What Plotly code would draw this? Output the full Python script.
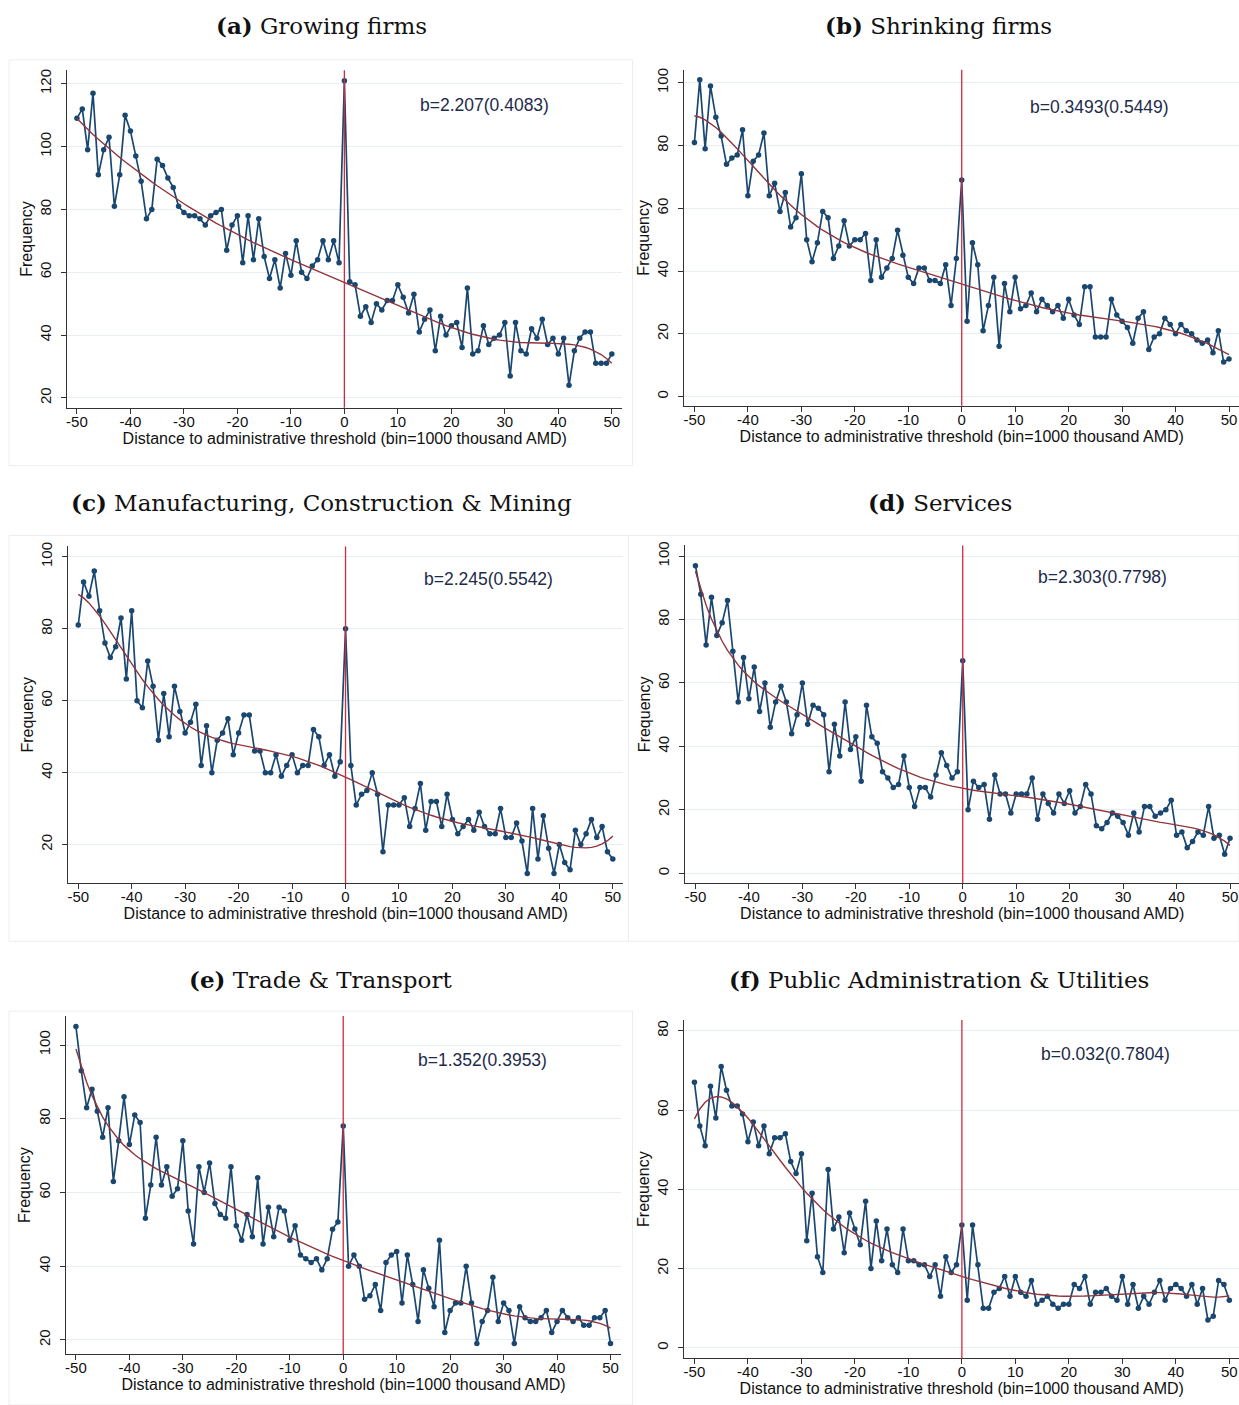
import numpy as np
import plotly.graph_objects as go

W, H = 1239, 1405

bins = list(range(-50, 51))

# ---------------- data (frequency per bin, x = -50 .. 50) ----------------
growing = [109,112,99,117,91,99,103,81,91,110,
           105,97,89,77,80,96,94,90,87,81,
           79,78,78,77,75,78,79,80,67,75,
           78,63,78,64,77,65,58,64,55,66,
           59,70,60,58,62,64,70,64,70,63,
           121,
           57,56,46,49,44,50,48,51,51,56,
           52,47,53,41,45,48,35,46,40,43,
           44,36,55,34,35,43,37,39,40,44,
           27,44,35,34,42,39,45,37,39,34,
           39,24,35,39,41,41,31,31,31,34]

shrinking = [81,101,79,99,89,83,74,76,77,85,
             64,75,77,84,64,68,59,65,54,57,
             71,50,43,49,59,57,44,48,56,48,
             50,50,52,37,50,38,41,44,53,45,
             38,36,41,41,37,37,36,42,29,44,
             69,
             24,49,42,21,29,38,16,36,27,38,
             28,29,33,27,31,29,27,29,25,31,
             26,23,35,35,19,19,19,31,26,24,
             22,17,25,27,15,19,20,25,23,20,
             23,21,20,18,17,18,14,21,11,12]

manufacturing = [81,93,89,96,85,76,72,75,83,66,
                 85,60,58,71,64,49,62,50,64,57,
                 51,54,59,42,53,40,49,51,55,45,
                 51,56,56,46,46,40,40,45,39,42,
                 45,40,42,42,52,50,42,45,39,43,
                 80,
                 42,31,34,35,40,34,18,31,31,31,
                 33,25,30,37,24,32,32,25,34,27,
                 23,25,27,24,29,25,23,23,30,22,
                 22,26,21,12,30,16,28,19,12,20,
                 15,13,24,20,23,27,22,25,18,16]

services = [97,88,72,87,75,79,86,70,54,68,
            55,65,51,60,46,54,59,54,44,50,
            60,47,53,52,50,32,47,37,54,39,
            43,29,53,43,41,32,30,27,28,37,
            27,21,27,27,24,31,38,34,30,32,
            67,
            20,29,27,28,17,31,25,25,19,25,
            25,25,30,17,25,22,19,25,22,26,
            19,21,28,25,15,14,16,19,18,16,
            12,19,13,21,21,18,19,20,23,12,
            13,8,10,13,12,21,11,12,6,11]

trade = [105,93,83,88,82,75,83,63,74,86,
         73,81,79,53,62,75,62,67,59,61,
         74,55,46,67,60,68,57,54,53,67,
         51,47,54,48,64,46,56,48,56,55,
         47,51,43,42,41,42,39,42,50,52,
         78,
         40,43,40,31,32,35,28,41,43,44,
         30,43,35,25,39,34,29,47,22,28,
         30,30,40,30,19,25,28,37,25,30,
         28,19,29,26,25,25,26,28,22,25,
         28,26,25,26,24,24,26,26,28,19]

public = [67,56,51,66,58,71,65,61,61,59,
          52,57,51,56,49,53,53,54,47,44,
          49,27,39,23,19,45,30,33,24,34,
          30,26,37,20,32,22,30,21,19,30,
          22,22,21,21,18,21,13,23,19,21,
          31,
          12,31,21,10,10,14,15,18,13,18,
          14,13,17,11,12,13,11,10,11,11,
          16,15,18,11,14,14,15,13,12,18,
          11,16,10,13,11,14,17,12,15,16,
          15,13,16,11,15,7,8,17,16,12]

titles = ["<b>(a)</b> Growing firms", "<b>(b)</b> Shrinking firms",
          "<b>(c)</b> Manufacturing, Construction &amp; Mining", "<b>(d)</b> Services",
          "<b>(e)</b> Trade &amp; Transport", "<b>(f)</b> Public Administration &amp; Utilities"]
estimates = ["b=2.207(0.4083)", "b=0.3493(0.5449)", "b=2.245(0.5542)",
             "b=2.303(0.7798)", "b=1.352(0.3953)", "b=0.032(0.7804)"]
x_ticks = [-50, -40, -30, -20, -10, 0, 10, 20, 30, 40, 50]
y_ticks = [[20, 40, 60, 80, 100, 120], [0, 20, 40, 60, 80, 100],
           [20, 40, 60, 80, 100], [0, 20, 40, 60, 80, 100],
           [20, 40, 60, 80, 100], [0, 20, 40, 60, 80]]
series = [growing, shrinking, manufacturing, services, trade, public]

# ---------------- layout geometry (pixels) ----------------
geom = [
    (76.0, 611.3, 66, 622, (80.0, 120), (395.0, 20), 66.5, 405, (321, 22), (484, 101)),
    (694.0, 1229.0, 684, 1239, (79.0, 100), (393.7, 0), 66.0, 403, (938, 22), (1099, 103)),
    (77.3, 612.3, 67, 623, (554.3, 100), (843.0, 20), 544.0, 881.7, (321, 500), (488, 577)),
    (695.0, 1230.0, 685, 1239, (553.7, 100), (871.7, 0), 543.0, 881.7, (940, 500), (1102, 575)),
    (75.0, 610.0, 64.7, 621, (1044.0, 100), (1339.7, 20), 1015.0, 1354, (320, 978), (482, 1059)),
    (694.0, 1229.3, 684, 1239, (1029.7, 80), (1347.7, 0), 1019.0, 1358, (939, 978), (1105, 1053)),
]

NAVY = "#1A476F"
MAROON = "#90353B"
RED = "#CF2B3E"
GRID = "#E6EEF1"
AX = "#333333"
SANS = "Liberation Sans, Arial, sans-serif"
SERIF = "DejaVu Serif, serif"


def lin(p1, v1, p2, v2, p):
    return v1 + (p - p1) * (v2 - v1) / (p2 - p1)


fig = go.Figure()
annotations = []
shapes = []

xarr = np.array(bins, dtype=float)

for i, (vals, g) in enumerate(zip(series, geom)):
    (xa, xb, left, right, (py1, v1), (py2, v2), top, bottom, tpos, epos) = g
    k = "" if i == 0 else str(i + 1)
    xname, yname = "x" + k, "y" + k

    yv = np.array(vals, dtype=float)
    mask = xarr != 0
    poly = np.polynomial.Polynomial.fit(xarr[mask], yv[mask], 7)
    fit = poly(xarr)

    fig.add_trace(go.Scatter(x=bins, y=vals, mode="lines+markers",
                             line=dict(color=NAVY, width=1.7),
                             marker=dict(color=NAVY, size=5.5),
                             xaxis=xname, yaxis=yname, showlegend=False))
    fig.add_trace(go.Scatter(x=bins, y=fit, mode="lines",
                             line=dict(color=MAROON, width=1.4),
                             xaxis=xname, yaxis=yname, showlegend=False))

    xr = [lin(xa, -50, xb, 50, left), lin(xa, -50, xb, 50, right)]
    yr = [lin(py1, v1, py2, v2, bottom), lin(py1, v1, py2, v2, top)]
    xdom = [max(0.0, left / W), min(1.0, right / W)]
    ydom = [1 - bottom / H, 1 - top / H]

    fig.layout["xaxis" + k] = dict(
        domain=xdom, range=xr, anchor=yname, tickvals=x_ticks,
        ticktext=[str(t) for t in x_ticks],
        ticks="outside", ticklen=5, tickcolor=AX, showline=True, linecolor=AX,
        linewidth=1.2, showgrid=False, zeroline=False, ticklabelstandoff=-5,
        tickfont=dict(family=SANS, size=15, color="#111111"),
        title=dict(text="Distance to administrative threshold (bin=1000 thousand AMD)",
                   font=dict(family=SANS, size=16, color="#111111"), standoff=0))
    fig.layout["yaxis" + k] = dict(
        domain=ydom, range=yr, anchor=xname, tickvals=y_ticks[i],
        ticktext=[str(t) for t in y_ticks[i]],
        ticks="outside", ticklen=5, tickcolor=AX, showline=True, linecolor=AX,
        linewidth=1.2, showgrid=True, gridcolor=GRID, gridwidth=1.2, zeroline=False,
        tickangle=-90, ticklabelstandoff=4,
        tickfont=dict(family=SANS, size=15, color="#111111"),
        title=dict(text="Frequency", font=dict(family=SANS, size=16, color="#111111"),
                   standoff=0))

    shapes.append(dict(type="line", xref=xname, yref=yname + " domain",
                       x0=0, x1=0, y0=0, y1=1, line=dict(color=RED, width=1.3)))

    annotations.append(dict(xref="paper", yref="paper", x=tpos[0] / W, y=1 - tpos[1] / H,
                            text=titles[i], showarrow=False, xanchor="center", yanchor="middle",
                            font=dict(family=SERIF, size=23, color="#111111")))
    annotations.append(dict(xref="paper", yref="paper", x=epos[0] / W, y=1 - epos[1] / H,
                            text=estimates[i], showarrow=False, xanchor="center", yanchor="middle",
                            font=dict(family=SANS, size=17.5, color="#1E2B4A")))

# faint frames around the individual panel images
for (x0, y0, x1, y1) in [(8, 56, 632, 463), (8, 533, 628, 940), (628, 533, 1239, 940),
                         (8, 1010, 632, 1405)]:
    shapes.append(dict(type="rect", xref="paper", yref="paper",
                       x0=x0 / W, x1=x1 / W, y0=1 - y1 / H, y1=1 - y0 / H,
                       line=dict(color="#EDEDED", width=1), layer="below"))

fig.update_layout(width=W, height=H, margin=dict(l=0, r=0, t=0, b=0),
                  paper_bgcolor="white", plot_bgcolor="white",
                  annotations=annotations, shapes=shapes, showlegend=False)

fig.write_html("out.html", config={"displayModeBar": False},
               post_script="document.body.style.margin='0px';"
                           "document.body.style.overflow='hidden';")
